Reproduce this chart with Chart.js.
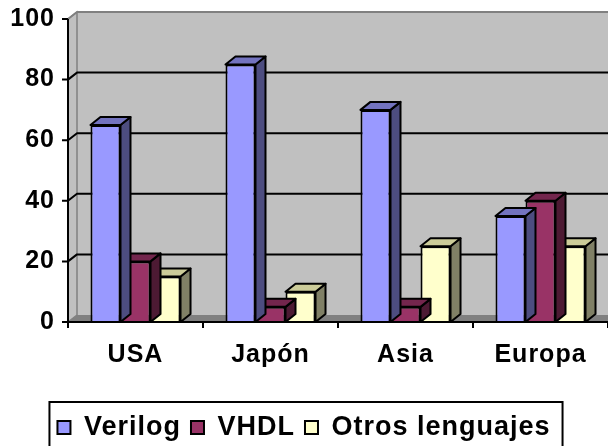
<!DOCTYPE html>
<html>
<head>
<meta charset="utf-8">
<script src="https://cdn.jsdelivr.net/npm/chart.js@4.4.1/dist/chart.umd.min.js"></script>
<style>
  html, body { margin: 0; padding: 0; background: #fff; }
  #wrap { width: 608px; height: 446px; }
</style>
</head>
<body>
<div id="wrap"><canvas id="barChart"></canvas></div>
<script>
// data
const categories = ['USA', 'Japón', 'Asia', 'Europa'];
const verilog = [65, 85, 70, 35];
const vhdl = [20, 5, 5, 40];
const otros = [15, 10, 25, 25];
const yTicks = [0, 20, 40, 60, 80, 100];

// front / top / side colours for the fake 3d look
const shades = [
  { front: '#9999FF', top: '#7373BF', side: '#4D4D80' },
  { front: '#993366', top: '#73264D', side: '#4D1A33' },
  { front: '#FFFFCC', top: '#CCCC99', side: '#808066' }
];
const depth = { x: 10, y: -8 };
const wall = { x: 9, y: -7 };
const font = { family: '"Liberation Sans", Arial, sans-serif', size: 25, weight: 'bold' };

function poly(ctx, pts, fill, stroke, lw) {
  ctx.beginPath();
  ctx.moveTo(pts[0][0], pts[0][1]);
  for (let i = 1; i < pts.length; i++) ctx.lineTo(pts[i][0], pts[i][1]);
  ctx.closePath();
  if (fill) { ctx.fillStyle = fill; ctx.fill(); }
  if (stroke) { ctx.strokeStyle = stroke; ctx.lineWidth = lw || 1; ctx.stroke(); }
}

const spacing = {
  id: 'spacing',
  beforeUpdate(chart) { chart.ctx.letterSpacing = '1px'; },
  beforeDraw(chart) { chart.ctx.letterSpacing = '1px'; }
};

const walls = {
  id: 'walls',
  beforeDatasetsDraw(chart) {
    const { ctx, chartArea, scales } = chart;
    const L = chartArea.left, R = chartArea.right, T = chartArea.top, B = chartArea.bottom;
    ctx.save();
    ctx.fillStyle = '#C0C0C0';
    ctx.fillRect(L + wall.x, T + wall.y, R - L + 40, B - T);
    poly(ctx, [[L, B], [L, T], [L + wall.x, T + wall.y], [L + wall.x, B + wall.y]], '#C0C0C0', '#808080', 1.5);
    poly(ctx, [[L, B], [R + 40, B], [R + 40 + wall.x, B + wall.y], [L + wall.x, B + wall.y]], '#808080');
    ctx.lineJoin = 'round';
    yTicks.forEach(v => {
      if (v === 0) return;
      const py = scales.y.getPixelForValue(v);
      ctx.beginPath();
      ctx.moveTo(L, py);
      ctx.lineTo(L + wall.x, py + wall.y);
      ctx.lineTo(R + 40, py + wall.y);
      ctx.strokeStyle = v === 100 ? '#808080' : '#000';
      ctx.lineWidth = 2;
      ctx.stroke();
    });
    ctx.restore();
  },
  beforeDatasetDraw(chart, args) {
    const ctx = chart.ctx;
    const s = shades[args.index];
    ctx.save();
    ctx.lineJoin = 'round';
    args.meta.data.forEach(bar => {
      const p = bar.getProps(['x', 'y', 'base', 'width'], true);
      const l = p.x - p.width / 2, r = p.x + p.width / 2;
      poly(ctx, [[r, p.y], [r + depth.x, p.y + depth.y], [r + depth.x, p.base + depth.y], [r, p.base]], s.side, '#000', 2);
      poly(ctx, [[l, p.y], [l + depth.x, p.y + depth.y], [r + depth.x, p.y + depth.y], [r, p.y]], s.top, '#000', 2);
    });
    ctx.restore();
  },
  afterDatasetsDraw(chart) {
    const { ctx, chartArea } = chart;
    const L = chartArea.left, R = chartArea.right, T = chartArea.top, B = chartArea.bottom;
    ctx.save();
    ctx.strokeStyle = '#000';
    ctx.lineWidth = 2;
    ctx.beginPath();
    ctx.moveTo(L, T); ctx.lineTo(L, B); ctx.lineTo(R, B);
    yTicks.forEach(v => {
      const py = chart.scales.y.getPixelForValue(v);
      ctx.moveTo(L - 6, py); ctx.lineTo(L, py);
    });
    for (let i = 0; i <= categories.length; i++) {
      const px = L + i * (R - L) / categories.length;
      ctx.moveTo(px, B); ctx.lineTo(px, B + 6);
    }
    ctx.stroke();
    ctx.restore();
  },
  afterDraw(chart) {
    const lg = chart.legend;
    if (!lg || !lg.legendHitBoxes.length) return;
    const hb = lg.legendHitBoxes;
    const x0 = hb[0].left - 8;
    const x1 = hb[hb.length - 1].left + hb[hb.length - 1].width + 12;
    const ctx = chart.ctx;
    ctx.save();
    ctx.strokeStyle = '#000';
    ctx.lineWidth = 2;
    ctx.strokeRect(x0, 402, x1 - x0, 70);
    ctx.restore();
  }
};

const ctx = document.getElementById('barChart');

new Chart(ctx, {
  type: 'bar',
  data: {
    labels: categories,
    datasets: [
      { label: 'Verilog', data: verilog, backgroundColor: shades[0].front, borderColor: '#000', borderWidth: 2 },
      { label: 'VHDL', data: vhdl, backgroundColor: shades[1].front, borderColor: '#000', borderWidth: 2 },
      { label: 'Otros lenguajes', data: otros, backgroundColor: shades[2].front, borderColor: '#000', borderWidth: 2 }
    ]
  },
  options: {
    responsive: true,
    maintainAspectRatio: false,
    animation: false,
    events: [],
    layout: { padding: { top: 19, left: 0, right: 0, bottom: -5 } },
    datasets: { bar: { categoryPercentage: 0.667, barPercentage: 1 } },
    scales: {
      x: {
        grid: { display: false, drawTicks: false },
        border: { display: false },
        ticks: { font: font, color: '#000', padding: 18, maxRotation: 0 },
        afterFit(s) { s.height = 82; }
      },
      y: {
        min: 0,
        max: 100,
        grid: { display: false, drawTicks: false },
        border: { display: false },
        ticks: { stepSize: 20, font: font, color: '#000', padding: 13 },
        afterFit(s) { s.width = 68; s.paddingTop = 0; s.paddingBottom = 0; }
      }
    },
    plugins: {
      tooltip: { enabled: false },
      legend: {
        position: 'bottom',
        labels: { font: { family: font.family, size: 27, weight: 'bold', lineHeight: 1 }, color: '#000', boxWidth: 13, boxHeight: 13, padding: 10 }
      }
    }
  },
  plugins: [spacing, walls]
});
</script>
</body>
</html>
